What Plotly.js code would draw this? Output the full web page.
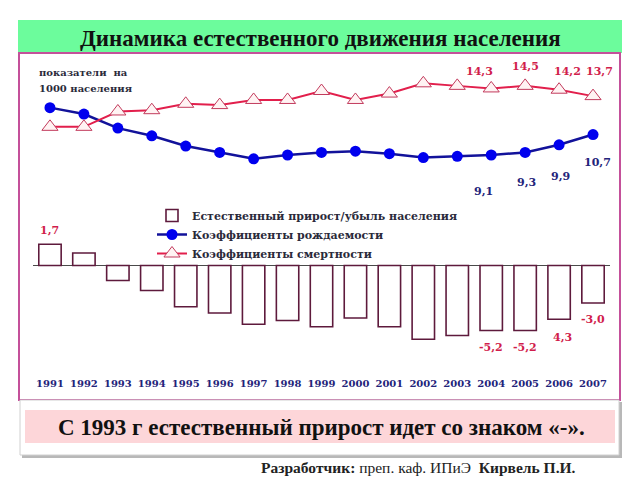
<!DOCTYPE html>
<html>
<head>
<meta charset="utf-8">
<script src="https://cdn.plot.ly/plotly-3.0.1.min.js"></script>
<style>html,body{margin:0;padding:0;background:#fff;}#chart{width:640px;height:480px;}</style>
</head>
<body>
<div id="chart"></div>
<script>
// ---- data ----
const years = ['1991','1992','1993','1994','1995','1996','1997','1998','1999','2000','2001','2002','2003','2004','2005','2006','2007'];
const birthRate = [12.8, 12.3, 11.2, 10.6, 9.8, 9.3, 8.8, 9.1, 9.3, 9.4, 9.2, 8.9, 9.0, 9.1, 9.3, 9.9, 10.7];
const deathRate = [11.3, 11.3, 12.5, 12.6, 13.1, 13.0, 13.4, 13.4, 14.1, 13.4, 13.9, 14.7, 14.5, 14.3, 14.5, 14.2, 13.7];
const naturalIncrease = [1.7, 1.0, -1.2, -2.0, -3.3, -3.8, -4.7, -4.4, -4.9, -4.2, -4.9, -5.9, -5.6, -5.2, -5.2, -4.3, -3.0];
const seriesNames = ['Естественный прирост/убыль населения', 'Коэффициенты рождаемости', 'Коэффициенты смертности'];
const deathLabelYears = ['2004','2005','2006','2007'];
const deathLabels = ['14,3','14,5','14,2','13,7'];
const birthLabelYears = ['2004','2005','2006','2007'];
const birthLabels = ['9,1','9,3','9,9','10,7'];
const barLabelYears = ['1991','2004','2005','2006','2007'];
const barLabels = ['1,7','-5,2','-5,2','4,3','-3,0'];
const titleText = 'Динамика естественного движения населения';
const axisNote = ['показатели  на', '1000 населения'];
const conclusionText = 'С 1993 г естественный прирост идет со знаком «-».';
const footerText = '<b>Разработчик:</b> преп. каф. ИПиЭ  <b>Кирвель П.И.</b>';

// ---- layout helpers (pixel -> paper) ----
const W = 640, H = 480, ML = 33, MR = 30, MT = 57, MB = 85;
const PW = W - ML - MR, PH = H - MT - MB;
const px = v => (v - ML) / PW;
const py = v => (H - MB - v) / PH;

const serif = 'Liberation Serif';
const wide = 'DejaVu Serif';
const red = '#d11d4c';
const navy = '#23237a';

const traces = [
  {
    type: 'bar', x: years, y: naturalIncrease, name: seriesNames[0],
    xaxis: 'x', yaxis: 'y2', width: 0.66,
    marker: {color: '#ffffff', line: {color: '#5e1a3c', width: 1.6}},
    hoverinfo: 'x+y'
  },
  {
    type: 'scatter', mode: 'lines+markers', x: years, y: birthRate, name: seriesNames[1],
    xaxis: 'x', yaxis: 'y',
    line: {color: '#12129a', width: 2.5},
    marker: {symbol: 'circle', size: 11, color: '#0000ee', line: {width: 0}}
  },
  {
    type: 'scatter', mode: 'lines+markers', x: years, y: deathRate, name: seriesNames[2],
    xaxis: 'x', yaxis: 'y',
    line: {color: '#e21f4c', width: 2},
    marker: {symbol: 'triangle-up', size: 14, color: '#fff3f3', line: {color: '#c23a5c', width: 1}}
  }
];

const annotations = [];
const dOff = [[-12, 17], [0, 19], [8, 18], [6, 25]];
deathLabelYears.forEach((yr, i) => {
  const k = years.indexOf(yr);
  annotations.push({xref: 'x', yref: 'y', x: k, y: deathRate[k], text: deathLabels[i],
    showarrow: false, xshift: dOff[i][0], yshift: dOff[i][1],
    font: {family: wide, size: 11, color: red, weight: 'bold'}});
});
const bOff = [[-8, -36], [1, -30], [1, -32], [4, -28]];
birthLabelYears.forEach((yr, i) => {
  const k = years.indexOf(yr);
  annotations.push({xref: 'x', yref: 'y', x: k, y: birthRate[k], text: birthLabels[i],
    showarrow: false, xshift: bOff[i][0], yshift: bOff[i][1],
    font: {family: wide, size: 11, color: navy, weight: 'bold'}});
});
const barOff = [[0, 14], [0, -17], [0, -17], [3, -18], [0, -17]];
barLabelYears.forEach((yr, i) => {
  const k = years.indexOf(yr);
  annotations.push({xref: 'x', yref: 'y2', x: k, y: naturalIncrease[k], text: barLabels[i],
    showarrow: false, xshift: barOff[i][0], yshift: barOff[i][1],
    font: {family: wide, size: 11, color: red, weight: 'bold'}});
});
annotations.push({xref: 'paper', yref: 'paper', x: px(37), y: py(72), xanchor: 'left', yanchor: 'middle',
  text: axisNote[0], showarrow: false, font: {family: wide, size: 10, color: '#2a2a3a', weight: 'bold'}});
annotations.push({xref: 'paper', yref: 'paper', x: px(37), y: py(88), xanchor: 'left', yanchor: 'middle',
  text: axisNote[1], showarrow: false, font: {family: wide, size: 10, color: '#2a2a3a', weight: 'bold'}});
annotations.push({xref: 'paper', yref: 'paper', x: px(320), y: py(39), xanchor: 'center', yanchor: 'middle',
  text: titleText, showarrow: false, font: {family: serif, size: 23, color: '#111', weight: 'bold'}});
annotations.push({xref: 'paper', yref: 'paper', x: px(321), y: py(427), xanchor: 'center', yanchor: 'middle',
  text: conclusionText, showarrow: false, font: {family: serif, size: 23, color: '#111', weight: 'bold'}});
annotations.push({xref: 'paper', yref: 'paper', x: px(578), y: py(467), xanchor: 'right', yanchor: 'middle',
  text: footerText, showarrow: false, font: {family: serif, size: 15.5, color: '#222'}});

const shapes = [
  // title bar
  {type: 'rect', xref: 'paper', yref: 'paper', x0: px(18), x1: px(622), y0: py(20), y1: py(53),
    fillcolor: '#6cfc9c', line: {width: 0}, layer: 'below'},
  // chart frame
  {type: 'rect', xref: 'paper', yref: 'paper', x0: px(19), x1: px(620), y0: py(53), y1: py(400),
    fillcolor: 'rgba(0,0,0,0)', line: {color: '#c4509a', width: 2}, layer: 'below'},
  // bottom box shadow
  {type: 'rect', xref: 'paper', yref: 'paper', x0: px(22), x1: px(622), y0: py(402), y1: py(458),
    fillcolor: '#b8b8b8', line: {width: 0}, layer: 'below'},
  // bottom box
  {type: 'rect', xref: 'paper', yref: 'paper', x0: px(20), x1: px(619), y0: py(400), y1: py(455),
    fillcolor: '#ffffff', line: {color: '#d0d0d0', width: 1}, layer: 'below'},
  // pink conclusion box
  {type: 'rect', xref: 'paper', yref: 'paper', x0: px(25), x1: px(615), y0: py(410), y1: py(443),
    fillcolor: '#fdd6d9', line: {width: 0}, layer: 'below'}
];

const dy = 2 / PH;
const layout = {
  width: W, height: H,
  margin: {l: ML, r: MR, t: MT, b: MB, pad: 0},
  paper_bgcolor: '#ffffff', plot_bgcolor: 'rgba(0,0,0,0)',
  showlegend: true,
  legend: {x: px(152), y: py(201), xanchor: 'left', yanchor: 'top', bgcolor: 'rgba(0,0,0,0)',
    font: {family: wide, size: 11, color: '#2a2a3a', weight: 'bold'}, traceorder: 'normal',
    tracegroupgap: 0, itemwidth: 30},
  xaxis: {type: 'category', range: [-0.5, 16.5], anchor: 'free', position: py(376),
    showgrid: false, zeroline: false, showline: false, ticks: '',
    tickfont: {family: wide, size: 10, color: navy, weight: 'bold'}},
  yaxis: {domain: [0.6364 - dy, 0.9773 - dy], range: [7, 16], visible: false, showgrid: false, zeroline: false, fixedrange: true},
  yaxis2: {domain: [0.0873, 0.4756], range: [-8, 2.5], showgrid: false, showticklabels: false, ticks: '',
    zeroline: true, zerolinecolor: '#4a4a4a', zerolinewidth: 1.6, showline: false},
  annotations: annotations,
  shapes: shapes,
  bargap: 0.34
};

Plotly.newPlot('chart', traces, layout, {displayModeBar: false, staticPlot: true});
</script>
</body>
</html>
